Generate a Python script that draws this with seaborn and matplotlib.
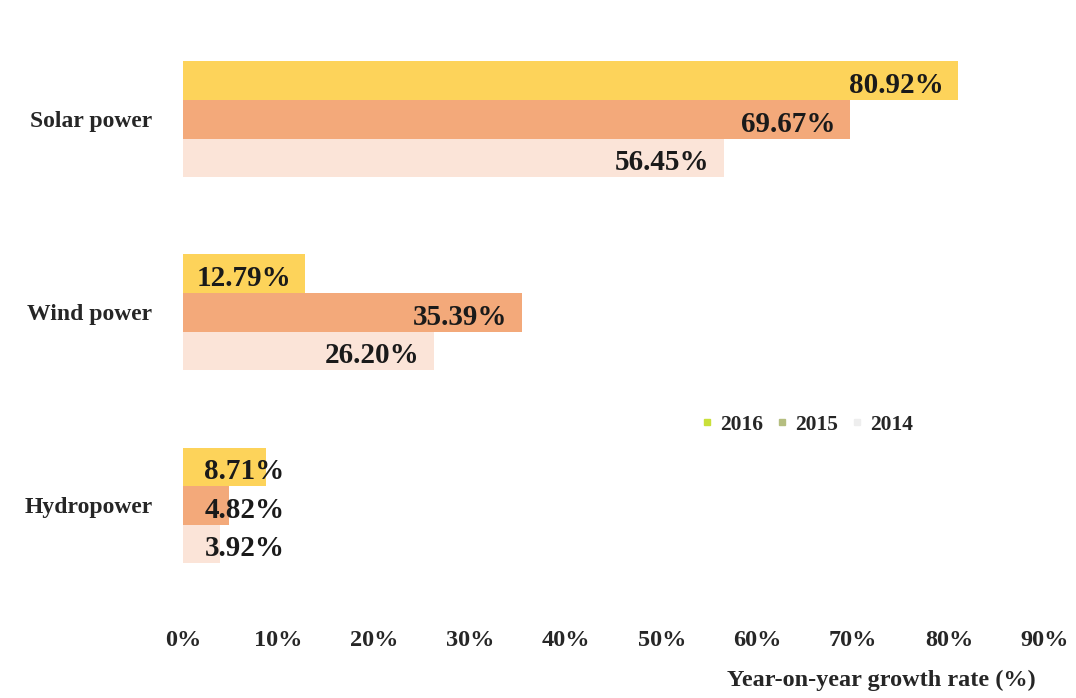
import pandas as pd
import matplotlib.pyplot as plt
import seaborn as sns
from matplotlib.lines import Line2D

# 데이터
sources = ['Solar power', 'Wind power', 'Hydropower']
years = ['2016', '2015', '2014']
growth_2016 = [80.92, 12.79, 8.71]
growth_2015 = [69.67, 35.39, 4.82]
growth_2014 = [56.45, 26.20, 3.92]
x_ticks = [0, 10, 20, 30, 40, 50, 60, 70, 80, 90]

bar_colors = ['#FDD35A', '#F3A97A', '#FBE4D8']
legend_colors = ['#C9E03A', '#B5BE80', '#EEEEEE']

df = pd.DataFrame({
    'source': sources * 3,
    'year': ['2016'] * 3 + ['2015'] * 3 + ['2014'] * 3,
    'value': growth_2016 + growth_2015 + growth_2014,
})

sns.set_theme(style='white')
plt.rcParams['font.family'] = ['Liberation Serif', 'DejaVu Serif']
plt.rcParams['font.weight'] = 'bold'

fig = plt.figure(figsize=(10.76, 6.98), dpi=100)
ax = fig.add_axes([0.170, 0.1375, 0.801, 0.83])

sns.barplot(data=df, y='source', x='value', hue='year', hue_order=years,
            order=sources, palette=bar_colors, width=0.6, orient='h',
            legend=False, ax=ax, saturation=1, linewidth=0)

# 값 라벨
for cont in ax.containers:
    for bar in cont:
        v = bar.get_width()
        yc = bar.get_y() + bar.get_height() / 2
        ax.text(max(v - 1.5, 10.6), yc + 0.025, f'{v:.2f}%', ha='right', va='center',
                fontsize=21, fontweight='bold', color='#1a1a1a')

ax.set_xlim(0, 90)
ax.set_ylim(2.5, -0.5)
ax.set_xticks(x_ticks)
ax.set_xticklabels([f'{t}%' for t in x_ticks], fontsize=17.5, fontweight='bold')
ax.tick_params(axis='x', length=0, pad=20)
ax.tick_params(axis='y', length=0, pad=22, labelsize=17)
for lab in ax.get_yticklabels():
    lab.set_fontweight('bold')
ax.set_ylabel('')
ax.set_xlabel('Year-on-year growth rate (%)', fontsize=17.5, fontweight='bold')
ax.xaxis.set_label_coords(0.99, -0.135)
ax.xaxis.label.set_horizontalalignment('right')
ax.xaxis.label.set_verticalalignment('center')
for s in ax.spines.values():
    s.set_visible(False)

handles = [Line2D([], [], marker='s', linestyle='', markersize=5,
                  markerfacecolor=c, markeredgecolor=c) for c in legend_colors]
ax.legend(handles, years, loc='center left', bbox_to_anchor=(0.578, 0.306),
          ncol=3, frameon=False, handlelength=0.6, handletextpad=0.3,
          columnspacing=0.6, prop={'size': 15.5, 'weight': 'bold'})

plt.savefig('out.png', dpi=100)
